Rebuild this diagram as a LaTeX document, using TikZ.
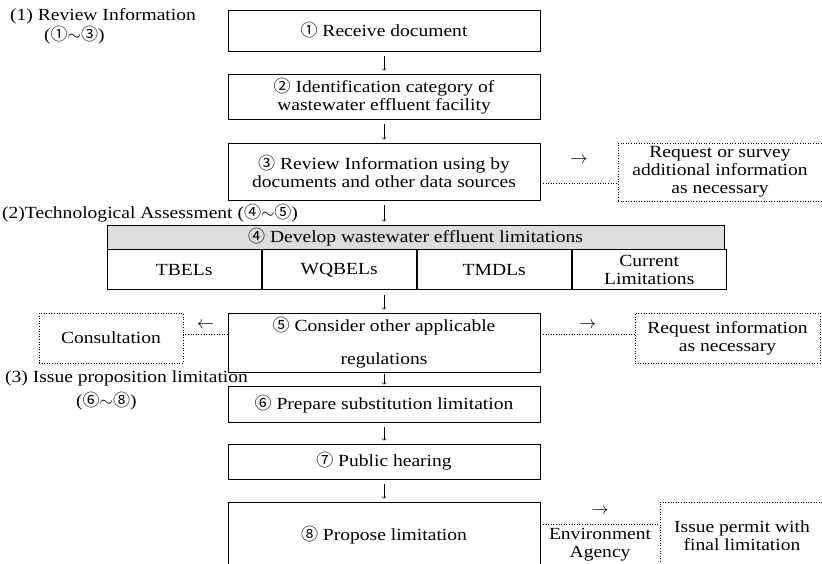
\documentclass[tikz,border=0pt]{standalone}
\usepackage{fontspec}
\setmainfont[FakeStretch=1.15]{Liberation Serif}
\newfontfamily\cjk{Noto Sans CJK KR}
\usetikzlibrary{positioning,calc}
\definecolor{headcolor}{RGB}{220,220,220}
\newcommand{\cn}[1]{{\cjk #1}}
\newcommand{\rng}[2]{(\cn{#1}$\sim$\cn{#2})}

\begin{document}
\begin{tikzpicture}[%
    x=1pt, y=-1pt,                 % one unit per pixel, rows counted downwards
    >=to,                          % thin heads, like the printed arrows
    font=\fontsize{17}{18}\selectfont,
    ]
\tikzset{
  base/.style={draw, align=center, inner sep=2pt},
  proc/.style={base, line width=0.8pt, minimum width=312pt},
  note/.style={base, dotted, line width=0.6pt},
  cell/.style={base, line width=0.8pt, minimum width=154.25pt, minimum height=40pt},
  flow/.style={->, line width=0.6pt, shorten <=5pt, shorten >=3pt},
  side/.style={dotted, line width=0.6pt},
  lbl/.style={inner sep=0pt, anchor=west},
  sign/.style={inner sep=0pt, midway},
}
\useasboundingbox (0,0) rectangle (822,564);
\clip (0,0) rectangle (822,564);

% stages
\node [lbl] (s1) at (10,16) {(1) Review Information};
\node [lbl] (s1r) at (44,35) {\rng{①}{③}};
\node [lbl] (s2) at (2,213) {(2)Technological Assessment \rng{④}{⑤}};
\node [lbl] (s3) at (5,378) {(3) Issue proposition limitation};
\node [lbl] (s3r) at (76,401) {\rng{⑥}{⑧}};

% main steps
\node [proc, minimum height=41pt] (b1) at (384,30.5) {\cn{①} Receive document};
\node [proc, minimum height=45pt] (b2) at (384,96.5) {\cn{②} Identification category of\\wastewater effluent facility};
\node [proc, minimum height=57pt] (b3) at (384,171.5) {\cn{③} Review Information using by\\documents and other data sources};
\node [note, minimum width=204pt, minimum height=58pt] (req1) at (720,172) {Request or survey\\additional information\\as necessary};

\node [base, line width=0.8pt, fill=headcolor, minimum width=617pt, minimum height=24pt] (hd) at (415.5,237) {\cn{④} Develop wastewater effluent limitations};
\node [cell, anchor=north west] (c1) at (hd.south west) {TBELs};
\node [cell, right=0pt of c1] (c2) {WQBELs};
\node [cell, right=0pt of c2] (c3) {TMDLs};
\node [cell, right=0pt of c3] (c4) {Current\\Limitations};

\node [proc, minimum height=59pt] (b5) at (384,342.5) {\cn{⑤} Consider other applicable\\[15pt]regulations};
\node [note, minimum width=144pt, minimum height=50pt] (cons) at (111,338) {Consultation};
\node [note, minimum width=185pt, minimum height=50pt] (req2) at (727.5,338) {Request information\\as necessary};

\node [proc, minimum height=36pt] (b6) at (384,404) {\cn{⑥} Prepare substitution limitation};
\node [proc, minimum height=35pt] (b7) at (384,461.5) {\cn{⑦} Public hearing};
\node [proc, minimum height=66pt] (b8) at (384,535) {\cn{⑧} Propose limitation};
\node [note, minimum width=164pt, minimum height=68pt] (issue) at (742,536) {Issue permit with\\final limitation};

% connect
\draw [flow] (b1) -- (b2);
\draw [flow] (b2) -- (b3);
\draw [flow] (b3.south) -- (b3.south |- hd.north);
\draw [flow] (b5.north |- c2.south) -- (b5.north);
\draw [flow, shorten <=2pt, shorten >=1pt] (b5) -- (b6);
\draw [flow] (b6) -- (b7);
\draw [flow] (b7) -- (b8);

\draw [side] ([yshift=-12pt]b3.east) -- ([yshift=-12pt]b3.east -| req1.west)
  node [sign, above=20pt] {$\rightarrow$};
\draw [side] ([yshift=8pt]b5.west) -- ([yshift=8pt]b5.west -| cons.east)
  node [sign, above=6pt] {$\leftarrow$};
\draw [side] ([yshift=8pt]b5.east) -- ([yshift=8pt]b5.east -| req2.west)
  node [sign, above=6pt] {$\rightarrow$};
\draw [side] ([yshift=11pt]b8.east) -- ([yshift=11pt]b8.east -| issue.west)
  node [sign, above=9pt] {$\rightarrow$}
  node [sign, below=4pt, align=center] {Environment\\Agency};

\end{tikzpicture}
\end{document}
